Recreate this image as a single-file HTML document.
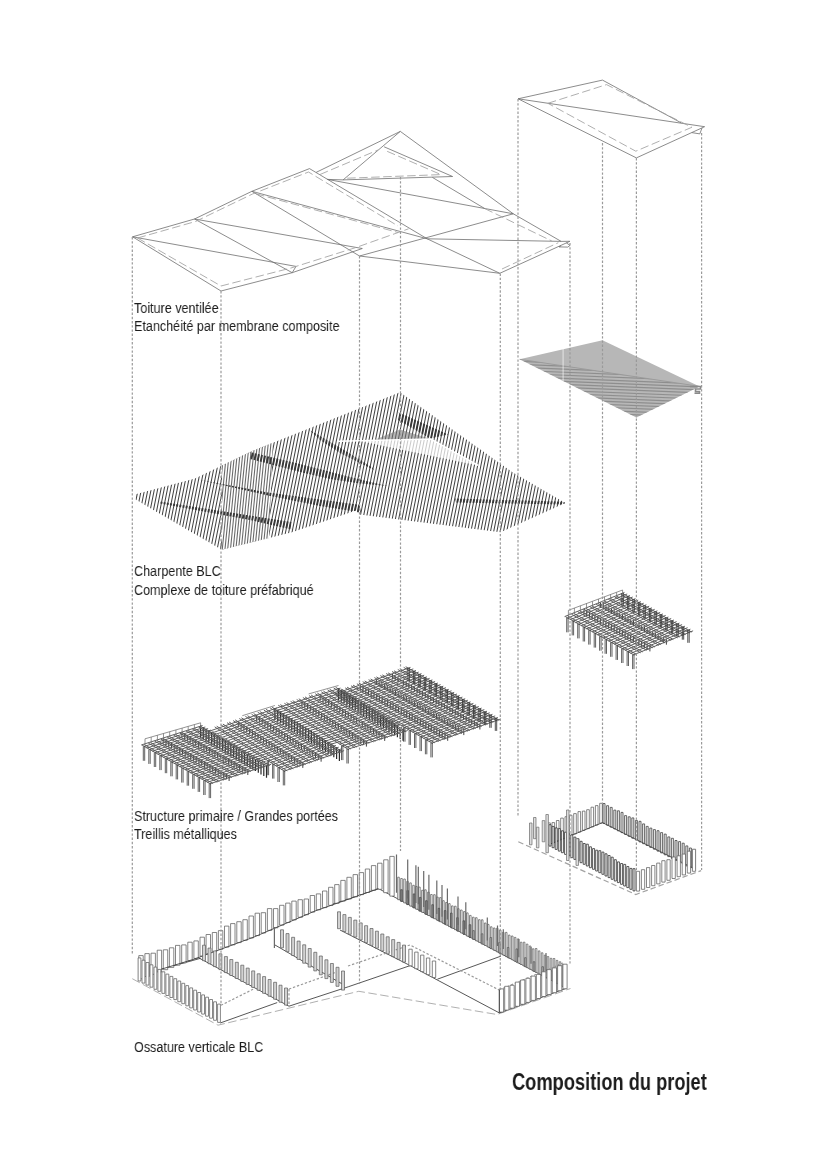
<!DOCTYPE html>
<html lang="fr"><head><meta charset="utf-8"><title>Composition du projet</title>
<style>
html,body{margin:0;padding:0;background:#fff;}
body{width:826px;height:1169px;position:relative;overflow:hidden;font-family:"Liberation Sans",sans-serif;}
svg{position:absolute;left:0;top:0;}
.l{stroke:#6e6e6e;stroke-width:.8;fill:none;}
.ld{stroke:#a0a0a0;stroke-width:.85;fill:none;stroke-dasharray:8.5 3.5;}
.dt{stroke:#9a9a9a;stroke-width:1.2;fill:none;stroke-dasharray:2.4 1.8;}
.h{stroke:#454545;stroke-width:1.05;fill:none;}
.h2{stroke:#383838;stroke-width:1.9;fill:none;}
.g{stroke:#585858;stroke-width:.95;fill:none;}
.pm{stroke:#444;stroke-width:1;fill:none;}
.pb{stroke:#3c3c3c;stroke-width:.9;fill:none;}
.p{stroke:#3a3a3a;stroke-width:.8;fill:none;}
.pd{stroke:#2a2a2a;stroke-width:1.2;fill:none;}
.r{stroke:#707070;stroke-width:.75;fill:none;}
.fl{stroke:#444;stroke-width:.9;fill:none;}
.pw{stroke:#5e5e5e;stroke-width:.75;fill:#fff;}
.ps{stroke:#6a6a6a;stroke-width:.7;fill:#dedede;}
.pw3{stroke:#555;stroke-width:.7;fill:#fff;}
.pk3{stroke:#555;stroke-width:.7;fill:#b5b5b5;}
.pw2{stroke:#2e2e2e;stroke-width:.8;fill:#fff;}
.ld2{stroke:#a2a2a2;stroke-width:1.2;fill:none;stroke-dasharray:5.5 3;}
.pg{stroke:#5a5a5a;stroke-width:.7;fill:#d2d2d2;}
.pk{stroke:#444;stroke-width:.7;fill:#8c8c8c;}
.pk2{stroke:#3a3a3a;stroke-width:.75;fill:#f0f0f0;}
.pl{stroke:#6a6a6a;stroke-width:1.2;fill:none;}
.h3{stroke:#6a6a6a;stroke-width:1.1;fill:none;}
.th{stroke:#8e8e8e;stroke-width:1.2;fill:none;}
.th2{stroke:#999;stroke-width:.9;fill:none;}
.t{position:absolute;will-change:transform;white-space:nowrap;color:#1c1c1c;font-size:15.3px;line-height:21px;transform-origin:0 0;transform:scaleX(.822);letter-spacing:0;}
.ttl{position:absolute;will-change:transform;white-space:nowrap;color:#1c1c1c;font-weight:bold;font-size:23px;line-height:30px;transform-origin:0 0;transform:scaleX(.794);}
</style></head><body>
<svg width="826" height="1169" viewBox="0 0 826 1169">
<path class="l" d="M132.6 236.8 L194.5 219 L251.9 191.3 L309.5 168.6"/>
<path class="l" d="M316.1 172.4 L400.3 131.4 L513.3 213.8 L561.2 241.4 L569.9 241.3 L499.8 273.3 L359.5 256"/>
<path class="l" d="M132.6 236.8 L221 291 L292.2 272.7 L362.3 248.5"/>
<line class="l" x1="132.6" y1="236.8" x2="296" y2="266.4"/>
<line class="l" x1="194.5" y1="219" x2="292.2" y2="272.7"/>
<line class="l" x1="296" y1="266.4" x2="292.2" y2="272.7"/>
<line class="l" x1="194.5" y1="219" x2="362.3" y2="248.5"/>
<line class="l" x1="251.9" y1="191.3" x2="359.5" y2="256"/>
<line class="l" x1="251.9" y1="191.3" x2="427.2" y2="238.8"/>
<line class="ld" x1="256" y1="193.8" x2="398" y2="232.5"/>
<line class="l" x1="309.5" y1="168.6" x2="427.2" y2="238.8"/>
<line class="l" x1="427.2" y1="238.8" x2="499.8" y2="273.3"/>
<line class="l" x1="359.5" y1="256" x2="513.3" y2="213.8"/>
<line class="l" x1="427.2" y1="238.8" x2="561.2" y2="241.4"/>
<line class="l" x1="327.4" y1="179.4" x2="513.3" y2="213.8"/>
<line class="l" x1="327.4" y1="179.4" x2="343.1" y2="179.9"/>
<path class="l" d="M400.3 131.4 L343.1 179.9 L452.6 176.5 L384.1 146.8"/>
<line class="l" x1="432.4" y1="177.4" x2="484.8" y2="208.6"/>
<line class="ld" x1="484.8" y1="208.6" x2="551.8" y2="241"/>
<path class="l" d="M566.3 242.8 L570 245.4 L567.8 247.1 L559 246.9 L561 245.8"/>
<path class="ld" d="M137.5 238 L195.5 221.5 L252.5 194 L308.5 172 L398 226"/>
<path class="ld" d="M137.5 238 L221 286 L291 268 L356 247.5 L408.6 228.8"/>
<path class="ld" d="M320 174.5 L378 150"/>
<path class="ld" d="M347.2 178.2 L441 174.6 L385.5 150.6"/>
<path class="ld" d="M502 269 L558.3 242.7"/>
<path class="l" d="M518.1 98.8 L602.5 80.1 L681.1 122.8"/>
<path class="l" d="M518.1 98.8 L704.6 126.7 L636.4 157.9 L518.1 98.8"/>
<path class="ld" d="M547.9 103.3 L606.5 84.6 L691.8 127.3 L635.8 151.2 L547.9 103.3"/>
<path class="l" d="M691.8 132.6 L699.8 133.9 L702 128"/>
<defs><clipPath id="ch"><path d="M135.6 499.6 L135.6 494.2 L195 478.6 L252 451 L309.5 428.2 L400 392.2 L513 472.6 L565.3 503 L500.6 532.2 L359.5 514.6 L356 510.5 L292 532.2 L221.8 549.8 Z"/></clipPath></defs>
<g clip-path="url(#ch)">
<path class="h" d="M132.4 388L99 555M135.7 388L102.2 555M138.9 388L105.5 555M142.2 388L108.8 555M145.4 388L112 555M148.7 388L115.2 555M151.9 388L118.5 555M155.2 388L121.8 555M158.4 388L125 555M161.7 388L128.2 555M164.9 388L131.5 555M168.2 388L134.8 555M171.4 388L138 555M174.7 388L141.2 555M177.9 388L144.5 555M181.2 388L147.8 555M184.4 388L151 555M187.7 388L154.2 555M190.9 388L157.5 555M194.2 388L160.8 555M197.4 388L164 555M200.7 388L167.2 555M203.9 388L170.5 555M207.2 388L173.8 555M210.4 388L177 555M213.7 388L180.2 555M216.9 388L183.5 555M220.2 388L186.8 555M223.4 388L190 555M226.7 388L193.2 555M229.9 388L196.5 555M233.2 388L199.8 555M236.4 388L203 555M239.7 388L206.2 555M242.9 388L209.5 555M246.2 388L212.8 555M249.4 388L216 555M252.7 388L219.2 555M255.9 388L222.5 555M259.1 388L225.8 555M262.4 388L229 555M265.6 388L232.2 555M268.9 388L235.5 555M272.1 388L238.8 555M275.4 388L242 555M278.6 388L245.2 555M281.9 388L248.5 555M285.1 388L251.8 555M288.4 388L255 555M291.6 388L258.2 555M294.9 388L261.5 555M298.1 388L264.8 555M301.4 388L268 555M304.6 388L271.2 555M307.9 388L274.5 555M311.1 388L277.8 555M314.4 388L281 555M317.6 388L284.2 555M320.9 388L287.5 555M324.1 388L290.8 555M327.4 388L294 555M330.6 388L297.2 555M333.9 388L300.5 555M337.1 388L303.8 555M340.4 388L307 555M343.6 388L310.2 555M346.9 388L313.5 555M350.1 388L316.8 555M353.4 388L320 555M356.6 388L323.2 555M359.9 388L326.5 555M363.1 388L329.8 555M366.4 388L333 555M369.6 388L336.2 555M372.9 388L339.5 555M376.1 388L342.8 555M379.4 388L346 555M382.6 388L349.2 555M385.9 388L352.5 555M389.1 388L355.8 555M392.4 388L359 555M395.6 388L362.2 555M398.9 388L365.5 555M402.1 388L368.8 555M405.4 388L372 555M408.6 388L375.2 555M411.9 388L378.5 555M415.1 388L381.8 555M418.4 388L385 555M421.6 388L388.2 555M424.9 388L391.5 555M428.1 388L394.8 555M431.4 388L398 555M434.6 388L401.2 555M437.9 388L404.5 555M441.1 388L407.8 555M444.4 388L411 555M447.6 388L414.2 555M450.9 388L417.5 555M454.1 388L420.8 555M457.4 388L424 555M460.6 388L427.2 555M463.9 388L430.5 555M467.1 388L433.8 555M470.4 388L437 555M473.6 388L440.2 555M476.9 388L443.5 555M480.1 388L446.8 555M483.4 388L450 555M486.6 388L453.2 555M489.9 388L456.5 555M493.1 388L459.8 555M496.4 388L463 555M499.6 388L466.2 555M502.9 388L469.5 555M506.1 388L472.8 555M509.4 388L476 555M512.6 388L479.2 555M515.9 388L482.5 555M519.1 388L485.8 555M522.4 388L489 555M525.6 388L492.2 555M528.9 388L495.5 555M532.1 388L498.8 555M535.4 388L502 555M538.6 388L505.2 555M541.9 388L508.5 555M545.1 388L511.8 555M548.4 388L515 555M551.6 388L518.2 555M554.9 388L521.5 555M558.1 388L524.8 555M561.4 388L528 555M564.6 388L531.2 555M567.9 388L534.5 555M571.1 388L537.8 555M574.4 388L541 555M577.6 388L544.2 555M580.9 388L547.5 555M584.1 388L550.8 555M587.4 388L554 555M590.6 388L557.2 555M593.9 388L560.5 555M597.1 388L563.8 555M600.4 388L567 555M603.6 388L570.2 555M606.9 388L573.5 555M610.1 388L576.8 555M613.4 388L580 555M616.6 388L583.2 555M619.9 388L586.5 555"/>
<clipPath id="ca"><path d="M222 440 L273 440 L268 560 L222 560 Z"/></clipPath>
<path d="M222 440 L273 440 L268 560 L222 560 Z" fill="#fff"/>
<path class="h3" clip-path="url(#ca)" d="M206 440L194 560M208.7 440L196.7 560M211.4 440L199.4 560M214.2 440L202.2 560M216.9 440L204.9 560M219.6 440L207.6 560M222.3 440L210.3 560M225 440L213 560M227.8 440L215.8 560M230.5 440L218.5 560M233.2 440L221.2 560M235.9 440L223.9 560M238.6 440L226.6 560M241.4 440L229.4 560M244.1 440L232.1 560M246.8 440L234.8 560M249.5 440L237.5 560M252.2 440L240.2 560M255 440L243 560M257.7 440L245.7 560M260.4 440L248.4 560M263.1 440L251.1 560M265.8 440L253.8 560M268.6 440L256.6 560M271.3 440L259.3 560M274 440L262 560M276.7 440L264.7 560M279.4 440L267.4 560M282.2 440L270.2 560M284.9 440L272.9 560M287.6 440L275.6 560M290.3 440L278.3 560M293 440L281 560M295.8 440L283.8 560"/>
<clipPath id="cb0"><path d="M250.3 452 L300 464 L360 479.5 L388 486 L360 483.5 L330 479 L300 472 L250.3 459 Z"/></clipPath>
<path class="h2" clip-path="url(#cb0)" d="M132.4 388L99 555M135.7 388L102.2 555M138.9 388L105.5 555M142.2 388L108.8 555M145.4 388L112 555M148.7 388L115.2 555M151.9 388L118.5 555M155.2 388L121.8 555M158.4 388L125 555M161.7 388L128.2 555M164.9 388L131.5 555M168.2 388L134.8 555M171.4 388L138 555M174.7 388L141.2 555M177.9 388L144.5 555M181.2 388L147.8 555M184.4 388L151 555M187.7 388L154.2 555M190.9 388L157.5 555M194.2 388L160.8 555M197.4 388L164 555M200.7 388L167.2 555M203.9 388L170.5 555M207.2 388L173.8 555M210.4 388L177 555M213.7 388L180.2 555M216.9 388L183.5 555M220.2 388L186.8 555M223.4 388L190 555M226.7 388L193.2 555M229.9 388L196.5 555M233.2 388L199.8 555M236.4 388L203 555M239.7 388L206.2 555M242.9 388L209.5 555M246.2 388L212.8 555M249.4 388L216 555M252.7 388L219.2 555M255.9 388L222.5 555M259.1 388L225.8 555M262.4 388L229 555M265.6 388L232.2 555M268.9 388L235.5 555M272.1 388L238.8 555M275.4 388L242 555M278.6 388L245.2 555M281.9 388L248.5 555M285.1 388L251.8 555M288.4 388L255 555M291.6 388L258.2 555M294.9 388L261.5 555M298.1 388L264.8 555M301.4 388L268 555M304.6 388L271.2 555M307.9 388L274.5 555M311.1 388L277.8 555M314.4 388L281 555M317.6 388L284.2 555M320.9 388L287.5 555M324.1 388L290.8 555M327.4 388L294 555M330.6 388L297.2 555M333.9 388L300.5 555M337.1 388L303.8 555M340.4 388L307 555M343.6 388L310.2 555M346.9 388L313.5 555M350.1 388L316.8 555M353.4 388L320 555M356.6 388L323.2 555M359.9 388L326.5 555M363.1 388L329.8 555M366.4 388L333 555M369.6 388L336.2 555M372.9 388L339.5 555M376.1 388L342.8 555M379.4 388L346 555M382.6 388L349.2 555M385.9 388L352.5 555M389.1 388L355.8 555M392.4 388L359 555M395.6 388L362.2 555M398.9 388L365.5 555M402.1 388L368.8 555M405.4 388L372 555M408.6 388L375.2 555M411.9 388L378.5 555M415.1 388L381.8 555M418.4 388L385 555M421.6 388L388.2 555M424.9 388L391.5 555M428.1 388L394.8 555M431.4 388L398 555M434.6 388L401.2 555M437.9 388L404.5 555M441.1 388L407.8 555M444.4 388L411 555M447.6 388L414.2 555M450.9 388L417.5 555M454.1 388L420.8 555M457.4 388L424 555M460.6 388L427.2 555M463.9 388L430.5 555M467.1 388L433.8 555M470.4 388L437 555M473.6 388L440.2 555M476.9 388L443.5 555M480.1 388L446.8 555M483.4 388L450 555M486.6 388L453.2 555M489.9 388L456.5 555M493.1 388L459.8 555M496.4 388L463 555M499.6 388L466.2 555M502.9 388L469.5 555M506.1 388L472.8 555M509.4 388L476 555M512.6 388L479.2 555M515.9 388L482.5 555M519.1 388L485.8 555M522.4 388L489 555M525.6 388L492.2 555M528.9 388L495.5 555M532.1 388L498.8 555M535.4 388L502 555M538.6 388L505.2 555M541.9 388L508.5 555M545.1 388L511.8 555M548.4 388L515 555M551.6 388L518.2 555M554.9 388L521.5 555M558.1 388L524.8 555M561.4 388L528 555M564.6 388L531.2 555M567.9 388L534.5 555M571.1 388L537.8 555M574.4 388L541 555M577.6 388L544.2 555M580.9 388L547.5 555M584.1 388L550.8 555M587.4 388L554 555M590.6 388L557.2 555M593.9 388L560.5 555M597.1 388L563.8 555M600.4 388L567 555M603.6 388L570.2 555M606.9 388L573.5 555M610.1 388L576.8 555M613.4 388L580 555M616.6 388L583.2 555M619.9 388L586.5 555"/>
<clipPath id="cb1"><path d="M308.8 429.5 L340 447.5 L372.4 467.5 L374 470 L340 453 L320 440 Z"/></clipPath>
<path class="h2" clip-path="url(#cb1)" d="M132.4 388L99 555M135.7 388L102.2 555M138.9 388L105.5 555M142.2 388L108.8 555M145.4 388L112 555M148.7 388L115.2 555M151.9 388L118.5 555M155.2 388L121.8 555M158.4 388L125 555M161.7 388L128.2 555M164.9 388L131.5 555M168.2 388L134.8 555M171.4 388L138 555M174.7 388L141.2 555M177.9 388L144.5 555M181.2 388L147.8 555M184.4 388L151 555M187.7 388L154.2 555M190.9 388L157.5 555M194.2 388L160.8 555M197.4 388L164 555M200.7 388L167.2 555M203.9 388L170.5 555M207.2 388L173.8 555M210.4 388L177 555M213.7 388L180.2 555M216.9 388L183.5 555M220.2 388L186.8 555M223.4 388L190 555M226.7 388L193.2 555M229.9 388L196.5 555M233.2 388L199.8 555M236.4 388L203 555M239.7 388L206.2 555M242.9 388L209.5 555M246.2 388L212.8 555M249.4 388L216 555M252.7 388L219.2 555M255.9 388L222.5 555M259.1 388L225.8 555M262.4 388L229 555M265.6 388L232.2 555M268.9 388L235.5 555M272.1 388L238.8 555M275.4 388L242 555M278.6 388L245.2 555M281.9 388L248.5 555M285.1 388L251.8 555M288.4 388L255 555M291.6 388L258.2 555M294.9 388L261.5 555M298.1 388L264.8 555M301.4 388L268 555M304.6 388L271.2 555M307.9 388L274.5 555M311.1 388L277.8 555M314.4 388L281 555M317.6 388L284.2 555M320.9 388L287.5 555M324.1 388L290.8 555M327.4 388L294 555M330.6 388L297.2 555M333.9 388L300.5 555M337.1 388L303.8 555M340.4 388L307 555M343.6 388L310.2 555M346.9 388L313.5 555M350.1 388L316.8 555M353.4 388L320 555M356.6 388L323.2 555M359.9 388L326.5 555M363.1 388L329.8 555M366.4 388L333 555M369.6 388L336.2 555M372.9 388L339.5 555M376.1 388L342.8 555M379.4 388L346 555M382.6 388L349.2 555M385.9 388L352.5 555M389.1 388L355.8 555M392.4 388L359 555M395.6 388L362.2 555M398.9 388L365.5 555M402.1 388L368.8 555M405.4 388L372 555M408.6 388L375.2 555M411.9 388L378.5 555M415.1 388L381.8 555M418.4 388L385 555M421.6 388L388.2 555M424.9 388L391.5 555M428.1 388L394.8 555M431.4 388L398 555M434.6 388L401.2 555M437.9 388L404.5 555M441.1 388L407.8 555M444.4 388L411 555M447.6 388L414.2 555M450.9 388L417.5 555M454.1 388L420.8 555M457.4 388L424 555M460.6 388L427.2 555M463.9 388L430.5 555M467.1 388L433.8 555M470.4 388L437 555M473.6 388L440.2 555M476.9 388L443.5 555M480.1 388L446.8 555M483.4 388L450 555M486.6 388L453.2 555M489.9 388L456.5 555M493.1 388L459.8 555M496.4 388L463 555M499.6 388L466.2 555M502.9 388L469.5 555M506.1 388L472.8 555M509.4 388L476 555M512.6 388L479.2 555M515.9 388L482.5 555M519.1 388L485.8 555M522.4 388L489 555M525.6 388L492.2 555M528.9 388L495.5 555M532.1 388L498.8 555M535.4 388L502 555M538.6 388L505.2 555M541.9 388L508.5 555M545.1 388L511.8 555M548.4 388L515 555M551.6 388L518.2 555M554.9 388L521.5 555M558.1 388L524.8 555M561.4 388L528 555M564.6 388L531.2 555M567.9 388L534.5 555M571.1 388L537.8 555M574.4 388L541 555M577.6 388L544.2 555M580.9 388L547.5 555M584.1 388L550.8 555M587.4 388L554 555M590.6 388L557.2 555M593.9 388L560.5 555M597.1 388L563.8 555M600.4 388L567 555M603.6 388L570.2 555M606.9 388L573.5 555M610.1 388L576.8 555M613.4 388L580 555M616.6 388L583.2 555M619.9 388L586.5 555"/>
<clipPath id="cb2"><path d="M198 479.5 L268 492.5 L361 505 L361 512.5 L320 506 L268 495.5 Z"/></clipPath>
<path class="h2" clip-path="url(#cb2)" d="M132.4 388L99 555M135.7 388L102.2 555M138.9 388L105.5 555M142.2 388L108.8 555M145.4 388L112 555M148.7 388L115.2 555M151.9 388L118.5 555M155.2 388L121.8 555M158.4 388L125 555M161.7 388L128.2 555M164.9 388L131.5 555M168.2 388L134.8 555M171.4 388L138 555M174.7 388L141.2 555M177.9 388L144.5 555M181.2 388L147.8 555M184.4 388L151 555M187.7 388L154.2 555M190.9 388L157.5 555M194.2 388L160.8 555M197.4 388L164 555M200.7 388L167.2 555M203.9 388L170.5 555M207.2 388L173.8 555M210.4 388L177 555M213.7 388L180.2 555M216.9 388L183.5 555M220.2 388L186.8 555M223.4 388L190 555M226.7 388L193.2 555M229.9 388L196.5 555M233.2 388L199.8 555M236.4 388L203 555M239.7 388L206.2 555M242.9 388L209.5 555M246.2 388L212.8 555M249.4 388L216 555M252.7 388L219.2 555M255.9 388L222.5 555M259.1 388L225.8 555M262.4 388L229 555M265.6 388L232.2 555M268.9 388L235.5 555M272.1 388L238.8 555M275.4 388L242 555M278.6 388L245.2 555M281.9 388L248.5 555M285.1 388L251.8 555M288.4 388L255 555M291.6 388L258.2 555M294.9 388L261.5 555M298.1 388L264.8 555M301.4 388L268 555M304.6 388L271.2 555M307.9 388L274.5 555M311.1 388L277.8 555M314.4 388L281 555M317.6 388L284.2 555M320.9 388L287.5 555M324.1 388L290.8 555M327.4 388L294 555M330.6 388L297.2 555M333.9 388L300.5 555M337.1 388L303.8 555M340.4 388L307 555M343.6 388L310.2 555M346.9 388L313.5 555M350.1 388L316.8 555M353.4 388L320 555M356.6 388L323.2 555M359.9 388L326.5 555M363.1 388L329.8 555M366.4 388L333 555M369.6 388L336.2 555M372.9 388L339.5 555M376.1 388L342.8 555M379.4 388L346 555M382.6 388L349.2 555M385.9 388L352.5 555M389.1 388L355.8 555M392.4 388L359 555M395.6 388L362.2 555M398.9 388L365.5 555M402.1 388L368.8 555M405.4 388L372 555M408.6 388L375.2 555M411.9 388L378.5 555M415.1 388L381.8 555M418.4 388L385 555M421.6 388L388.2 555M424.9 388L391.5 555M428.1 388L394.8 555M431.4 388L398 555M434.6 388L401.2 555M437.9 388L404.5 555M441.1 388L407.8 555M444.4 388L411 555M447.6 388L414.2 555M450.9 388L417.5 555M454.1 388L420.8 555M457.4 388L424 555M460.6 388L427.2 555M463.9 388L430.5 555M467.1 388L433.8 555M470.4 388L437 555M473.6 388L440.2 555M476.9 388L443.5 555M480.1 388L446.8 555M483.4 388L450 555M486.6 388L453.2 555M489.9 388L456.5 555M493.1 388L459.8 555M496.4 388L463 555M499.6 388L466.2 555M502.9 388L469.5 555M506.1 388L472.8 555M509.4 388L476 555M512.6 388L479.2 555M515.9 388L482.5 555M519.1 388L485.8 555M522.4 388L489 555M525.6 388L492.2 555M528.9 388L495.5 555M532.1 388L498.8 555M535.4 388L502 555M538.6 388L505.2 555M541.9 388L508.5 555M545.1 388L511.8 555M548.4 388L515 555M551.6 388L518.2 555M554.9 388L521.5 555M558.1 388L524.8 555M561.4 388L528 555M564.6 388L531.2 555M567.9 388L534.5 555M571.1 388L537.8 555M574.4 388L541 555M577.6 388L544.2 555M580.9 388L547.5 555M584.1 388L550.8 555M587.4 388L554 555M590.6 388L557.2 555M593.9 388L560.5 555M597.1 388L563.8 555M600.4 388L567 555M603.6 388L570.2 555M606.9 388L573.5 555M610.1 388L576.8 555M613.4 388L580 555M616.6 388L583.2 555M619.9 388L586.5 555"/>
<clipPath id="cb3"><path d="M160 501.5 L291.5 522 L291.5 529.5 L250 520 L160 503.5 Z"/></clipPath>
<path class="h2" clip-path="url(#cb3)" d="M132.4 388L99 555M135.7 388L102.2 555M138.9 388L105.5 555M142.2 388L108.8 555M145.4 388L112 555M148.7 388L115.2 555M151.9 388L118.5 555M155.2 388L121.8 555M158.4 388L125 555M161.7 388L128.2 555M164.9 388L131.5 555M168.2 388L134.8 555M171.4 388L138 555M174.7 388L141.2 555M177.9 388L144.5 555M181.2 388L147.8 555M184.4 388L151 555M187.7 388L154.2 555M190.9 388L157.5 555M194.2 388L160.8 555M197.4 388L164 555M200.7 388L167.2 555M203.9 388L170.5 555M207.2 388L173.8 555M210.4 388L177 555M213.7 388L180.2 555M216.9 388L183.5 555M220.2 388L186.8 555M223.4 388L190 555M226.7 388L193.2 555M229.9 388L196.5 555M233.2 388L199.8 555M236.4 388L203 555M239.7 388L206.2 555M242.9 388L209.5 555M246.2 388L212.8 555M249.4 388L216 555M252.7 388L219.2 555M255.9 388L222.5 555M259.1 388L225.8 555M262.4 388L229 555M265.6 388L232.2 555M268.9 388L235.5 555M272.1 388L238.8 555M275.4 388L242 555M278.6 388L245.2 555M281.9 388L248.5 555M285.1 388L251.8 555M288.4 388L255 555M291.6 388L258.2 555M294.9 388L261.5 555M298.1 388L264.8 555M301.4 388L268 555M304.6 388L271.2 555M307.9 388L274.5 555M311.1 388L277.8 555M314.4 388L281 555M317.6 388L284.2 555M320.9 388L287.5 555M324.1 388L290.8 555M327.4 388L294 555M330.6 388L297.2 555M333.9 388L300.5 555M337.1 388L303.8 555M340.4 388L307 555M343.6 388L310.2 555M346.9 388L313.5 555M350.1 388L316.8 555M353.4 388L320 555M356.6 388L323.2 555M359.9 388L326.5 555M363.1 388L329.8 555M366.4 388L333 555M369.6 388L336.2 555M372.9 388L339.5 555M376.1 388L342.8 555M379.4 388L346 555M382.6 388L349.2 555M385.9 388L352.5 555M389.1 388L355.8 555M392.4 388L359 555M395.6 388L362.2 555M398.9 388L365.5 555M402.1 388L368.8 555M405.4 388L372 555M408.6 388L375.2 555M411.9 388L378.5 555M415.1 388L381.8 555M418.4 388L385 555M421.6 388L388.2 555M424.9 388L391.5 555M428.1 388L394.8 555M431.4 388L398 555M434.6 388L401.2 555M437.9 388L404.5 555M441.1 388L407.8 555M444.4 388L411 555M447.6 388L414.2 555M450.9 388L417.5 555M454.1 388L420.8 555M457.4 388L424 555M460.6 388L427.2 555M463.9 388L430.5 555M467.1 388L433.8 555M470.4 388L437 555M473.6 388L440.2 555M476.9 388L443.5 555M480.1 388L446.8 555M483.4 388L450 555M486.6 388L453.2 555M489.9 388L456.5 555M493.1 388L459.8 555M496.4 388L463 555M499.6 388L466.2 555M502.9 388L469.5 555M506.1 388L472.8 555M509.4 388L476 555M512.6 388L479.2 555M515.9 388L482.5 555M519.1 388L485.8 555M522.4 388L489 555M525.6 388L492.2 555M528.9 388L495.5 555M532.1 388L498.8 555M535.4 388L502 555M538.6 388L505.2 555M541.9 388L508.5 555M545.1 388L511.8 555M548.4 388L515 555M551.6 388L518.2 555M554.9 388L521.5 555M558.1 388L524.8 555M561.4 388L528 555M564.6 388L531.2 555M567.9 388L534.5 555M571.1 388L537.8 555M574.4 388L541 555M577.6 388L544.2 555M580.9 388L547.5 555M584.1 388L550.8 555M587.4 388L554 555M590.6 388L557.2 555M593.9 388L560.5 555M597.1 388L563.8 555M600.4 388L567 555M603.6 388L570.2 555M606.9 388L573.5 555M610.1 388L576.8 555M613.4 388L580 555M616.6 388L583.2 555M619.9 388L586.5 555"/>
<clipPath id="cb4"><path d="M397.9 412 L448.3 434.4 L430 438.5 L398 420 Z"/></clipPath>
<path class="h2" clip-path="url(#cb4)" d="M132.4 388L99 555M135.7 388L102.2 555M138.9 388L105.5 555M142.2 388L108.8 555M145.4 388L112 555M148.7 388L115.2 555M151.9 388L118.5 555M155.2 388L121.8 555M158.4 388L125 555M161.7 388L128.2 555M164.9 388L131.5 555M168.2 388L134.8 555M171.4 388L138 555M174.7 388L141.2 555M177.9 388L144.5 555M181.2 388L147.8 555M184.4 388L151 555M187.7 388L154.2 555M190.9 388L157.5 555M194.2 388L160.8 555M197.4 388L164 555M200.7 388L167.2 555M203.9 388L170.5 555M207.2 388L173.8 555M210.4 388L177 555M213.7 388L180.2 555M216.9 388L183.5 555M220.2 388L186.8 555M223.4 388L190 555M226.7 388L193.2 555M229.9 388L196.5 555M233.2 388L199.8 555M236.4 388L203 555M239.7 388L206.2 555M242.9 388L209.5 555M246.2 388L212.8 555M249.4 388L216 555M252.7 388L219.2 555M255.9 388L222.5 555M259.1 388L225.8 555M262.4 388L229 555M265.6 388L232.2 555M268.9 388L235.5 555M272.1 388L238.8 555M275.4 388L242 555M278.6 388L245.2 555M281.9 388L248.5 555M285.1 388L251.8 555M288.4 388L255 555M291.6 388L258.2 555M294.9 388L261.5 555M298.1 388L264.8 555M301.4 388L268 555M304.6 388L271.2 555M307.9 388L274.5 555M311.1 388L277.8 555M314.4 388L281 555M317.6 388L284.2 555M320.9 388L287.5 555M324.1 388L290.8 555M327.4 388L294 555M330.6 388L297.2 555M333.9 388L300.5 555M337.1 388L303.8 555M340.4 388L307 555M343.6 388L310.2 555M346.9 388L313.5 555M350.1 388L316.8 555M353.4 388L320 555M356.6 388L323.2 555M359.9 388L326.5 555M363.1 388L329.8 555M366.4 388L333 555M369.6 388L336.2 555M372.9 388L339.5 555M376.1 388L342.8 555M379.4 388L346 555M382.6 388L349.2 555M385.9 388L352.5 555M389.1 388L355.8 555M392.4 388L359 555M395.6 388L362.2 555M398.9 388L365.5 555M402.1 388L368.8 555M405.4 388L372 555M408.6 388L375.2 555M411.9 388L378.5 555M415.1 388L381.8 555M418.4 388L385 555M421.6 388L388.2 555M424.9 388L391.5 555M428.1 388L394.8 555M431.4 388L398 555M434.6 388L401.2 555M437.9 388L404.5 555M441.1 388L407.8 555M444.4 388L411 555M447.6 388L414.2 555M450.9 388L417.5 555M454.1 388L420.8 555M457.4 388L424 555M460.6 388L427.2 555M463.9 388L430.5 555M467.1 388L433.8 555M470.4 388L437 555M473.6 388L440.2 555M476.9 388L443.5 555M480.1 388L446.8 555M483.4 388L450 555M486.6 388L453.2 555M489.9 388L456.5 555M493.1 388L459.8 555M496.4 388L463 555M499.6 388L466.2 555M502.9 388L469.5 555M506.1 388L472.8 555M509.4 388L476 555M512.6 388L479.2 555M515.9 388L482.5 555M519.1 388L485.8 555M522.4 388L489 555M525.6 388L492.2 555M528.9 388L495.5 555M532.1 388L498.8 555M535.4 388L502 555M538.6 388L505.2 555M541.9 388L508.5 555M545.1 388L511.8 555M548.4 388L515 555M551.6 388L518.2 555M554.9 388L521.5 555M558.1 388L524.8 555M561.4 388L528 555M564.6 388L531.2 555M567.9 388L534.5 555M571.1 388L537.8 555M574.4 388L541 555M577.6 388L544.2 555M580.9 388L547.5 555M584.1 388L550.8 555M587.4 388L554 555M590.6 388L557.2 555M593.9 388L560.5 555M597.1 388L563.8 555M600.4 388L567 555M603.6 388L570.2 555M606.9 388L573.5 555M610.1 388L576.8 555M613.4 388L580 555M616.6 388L583.2 555M619.9 388L586.5 555"/>
<clipPath id="cb5"><path d="M455 498.5 L565 501.8 L565 504.5 L455 502.5 Z"/></clipPath>
<path class="h2" clip-path="url(#cb5)" d="M132.4 388L99 555M135.7 388L102.2 555M138.9 388L105.5 555M142.2 388L108.8 555M145.4 388L112 555M148.7 388L115.2 555M151.9 388L118.5 555M155.2 388L121.8 555M158.4 388L125 555M161.7 388L128.2 555M164.9 388L131.5 555M168.2 388L134.8 555M171.4 388L138 555M174.7 388L141.2 555M177.9 388L144.5 555M181.2 388L147.8 555M184.4 388L151 555M187.7 388L154.2 555M190.9 388L157.5 555M194.2 388L160.8 555M197.4 388L164 555M200.7 388L167.2 555M203.9 388L170.5 555M207.2 388L173.8 555M210.4 388L177 555M213.7 388L180.2 555M216.9 388L183.5 555M220.2 388L186.8 555M223.4 388L190 555M226.7 388L193.2 555M229.9 388L196.5 555M233.2 388L199.8 555M236.4 388L203 555M239.7 388L206.2 555M242.9 388L209.5 555M246.2 388L212.8 555M249.4 388L216 555M252.7 388L219.2 555M255.9 388L222.5 555M259.1 388L225.8 555M262.4 388L229 555M265.6 388L232.2 555M268.9 388L235.5 555M272.1 388L238.8 555M275.4 388L242 555M278.6 388L245.2 555M281.9 388L248.5 555M285.1 388L251.8 555M288.4 388L255 555M291.6 388L258.2 555M294.9 388L261.5 555M298.1 388L264.8 555M301.4 388L268 555M304.6 388L271.2 555M307.9 388L274.5 555M311.1 388L277.8 555M314.4 388L281 555M317.6 388L284.2 555M320.9 388L287.5 555M324.1 388L290.8 555M327.4 388L294 555M330.6 388L297.2 555M333.9 388L300.5 555M337.1 388L303.8 555M340.4 388L307 555M343.6 388L310.2 555M346.9 388L313.5 555M350.1 388L316.8 555M353.4 388L320 555M356.6 388L323.2 555M359.9 388L326.5 555M363.1 388L329.8 555M366.4 388L333 555M369.6 388L336.2 555M372.9 388L339.5 555M376.1 388L342.8 555M379.4 388L346 555M382.6 388L349.2 555M385.9 388L352.5 555M389.1 388L355.8 555M392.4 388L359 555M395.6 388L362.2 555M398.9 388L365.5 555M402.1 388L368.8 555M405.4 388L372 555M408.6 388L375.2 555M411.9 388L378.5 555M415.1 388L381.8 555M418.4 388L385 555M421.6 388L388.2 555M424.9 388L391.5 555M428.1 388L394.8 555M431.4 388L398 555M434.6 388L401.2 555M437.9 388L404.5 555M441.1 388L407.8 555M444.4 388L411 555M447.6 388L414.2 555M450.9 388L417.5 555M454.1 388L420.8 555M457.4 388L424 555M460.6 388L427.2 555M463.9 388L430.5 555M467.1 388L433.8 555M470.4 388L437 555M473.6 388L440.2 555M476.9 388L443.5 555M480.1 388L446.8 555M483.4 388L450 555M486.6 388L453.2 555M489.9 388L456.5 555M493.1 388L459.8 555M496.4 388L463 555M499.6 388L466.2 555M502.9 388L469.5 555M506.1 388L472.8 555M509.4 388L476 555M512.6 388L479.2 555M515.9 388L482.5 555M519.1 388L485.8 555M522.4 388L489 555M525.6 388L492.2 555M528.9 388L495.5 555M532.1 388L498.8 555M535.4 388L502 555M538.6 388L505.2 555M541.9 388L508.5 555M545.1 388L511.8 555M548.4 388L515 555M551.6 388L518.2 555M554.9 388L521.5 555M558.1 388L524.8 555M561.4 388L528 555M564.6 388L531.2 555M567.9 388L534.5 555M571.1 388L537.8 555M574.4 388L541 555M577.6 388L544.2 555M580.9 388L547.5 555M584.1 388L550.8 555M587.4 388L554 555M590.6 388L557.2 555M593.9 388L560.5 555M597.1 388L563.8 555M600.4 388L567 555M603.6 388L570.2 555M606.9 388L573.5 555M610.1 388L576.8 555M613.4 388L580 555M616.6 388L583.2 555M619.9 388L586.5 555"/>
<path d="M400 429.5 L374.2 440 L430.8 439 Z" fill="#7a7a7a" opacity=".55"/>
<path d="M360.9 441.3 L430.8 439.3 L478.2 465.6 Z" fill="#fff" opacity=".72"/>
<path d="M338.2 441.2 L430.8 439 L478.2 465.4" fill="none" stroke="#fff" stroke-width="1.6"/>
</g>
<path d="M519.6 359.3 L602.5 340.3 L699.6 386.4 L636.4 417.4 Z" fill="#b7b7b7"/>
<clipPath id="th"><path d="M519.6 359.3 L699.6 386.4 L636.4 417.4 Z"/></clipPath>
<path class="th" clip-path="url(#th)" d="M515 355L705 362.6M515 358.1L705 365.7M515 361.1L705 368.7M515 364.2L705 371.8M515 367.2L705 374.8M515 370.3L705 377.9M515 373.3L705 380.9M515 376.4L705 384M515 379.4L705 387M515 382.5L705 390.1M515 385.5L705 393.1M515 388.6L705 396.2M515 391.6L705 399.2M515 394.7L705 402.3M515 397.7L705 405.3M515 400.8L705 408.4M515 403.8L705 411.4M515 406.9L705 414.5M515 409.9L705 417.5M515 413L705 420.6M515 416L705 423.6M515 419.1L705 426.7M515 422.1L705 429.7M515 425.2L705 432.8M515 428.2L705 435.8"/>
<line class="th2" x1="519.6" y1="359.3" x2="699.6" y2="386.4"/>
<path d="M563.1 347V381" stroke="#fff" stroke-width=".8" opacity=".8"/>
<path d="M690 386.5H700.5V389H695.5V391.5H699.5V393.3H694.5" fill="none" stroke="#8a8a8a" stroke-width="1.6"/>
<path class="pm" d="M360.3 685.2L360.3 690.7M363 686.7L363 692.2M365.8 688.3L365.8 693.8M368.5 689.9L368.5 695.4M371.2 691.4L371.2 696.9M374 693L374 698.5M376.7 694.6L376.7 700.1M379.4 696.1L379.4 701.6M382.2 697.7L382.2 703.2M384.9 699.3L384.9 704.8M387.6 700.8L387.6 706.3M390.3 702.4L390.3 707.9M393.1 704L393.1 709.5M395.8 705.5L395.8 711M398.5 707.1L398.5 712.6M401.3 708.7L401.3 714.2M404 710.2L404 715.7M406.7 711.8L406.7 717.3M409.5 713.4L409.5 718.9M412.2 714.9L412.2 720.4M414.9 716.5L414.9 722M417.7 718.1L417.7 723.6M420.4 719.6L420.4 725.1M423.1 721.2L423.1 726.7M425.9 722.8L425.9 728.2M428.6 724.3L428.6 729.8M431.3 725.9L431.3 731.4M434 727.4L434 732.9M436.8 729L436.8 734.5M439.5 730.6L439.5 736.1M442.2 732.1L442.2 737.6M445 733.7L445 739.2M447.7 735.3L447.7 740.8"/>
<path class="pm" d="M376.4 679.5L376.4 685M379.1 681.1L379.1 686.6M381.9 682.7L381.9 688.2M384.6 684.2L384.6 689.7M387.3 685.8L387.3 691.3M390.1 687.4L390.1 692.9M392.8 688.9L392.8 694.4M395.5 690.5L395.5 696M398.2 692.1L398.2 697.6M401 693.6L401 699.1M403.7 695.2L403.7 700.7M406.4 696.8L406.4 702.3M409.2 698.3L409.2 703.8M411.9 699.9L411.9 705.4M414.6 701.5L414.6 707M417.4 703L417.4 708.5M420.1 704.6L420.1 710.1M422.8 706.2L422.8 711.7M425.6 707.7L425.6 713.2M428.3 709.3L428.3 714.8M431 710.9L431 716.4M433.8 712.4L433.8 717.9M436.5 714L436.5 719.5M439.2 715.6L439.2 721.1M441.9 717.1L441.9 722.6M444.7 718.7L444.7 724.2M447.4 720.3L447.4 725.8M450.1 721.8L450.1 727.3M452.9 723.4L452.9 728.9M455.6 725L455.6 730.5M458.3 726.5L458.3 732M461.1 728.1L461.1 733.6M463.8 729.6L463.8 735.1"/>
<path class="pm" d="M392.5 673.9L392.5 679.4M395.2 675.5L395.2 681M398 677.1L398 682.6M400.7 678.6L400.7 684.1M403.4 680.2L403.4 685.7M406.2 681.8L406.2 687.3M408.9 683.3L408.9 688.8M411.6 684.9L411.6 690.4M414.4 686.4L414.4 691.9M417.1 688L417.1 693.5M419.8 689.6L419.8 695.1M422.5 691.1L422.5 696.6M425.3 692.7L425.3 698.2M428 694.3L428 699.8M430.7 695.8L430.7 701.3M433.5 697.4L433.5 702.9M436.2 699L436.2 704.5M438.9 700.5L438.9 706M441.7 702.1L441.7 707.6M444.4 703.7L444.4 709.2M447.1 705.2L447.1 710.7M449.9 706.8L449.9 712.3M452.6 708.4L452.6 713.9M455.3 709.9L455.3 715.4M458.1 711.5L458.1 717M460.8 713.1L460.8 718.6M463.5 714.6L463.5 720.1M466.2 716.2L466.2 721.7M469 717.8L469 723.3M471.7 719.3L471.7 724.8M474.4 720.9L474.4 726.4M477.2 722.5L477.2 728M479.9 724L479.9 729.5"/>
<path class="g" d="M334.3 694L410.5 667.4M337.1 695.6L413.3 668.9M339.8 697.1L416 670.5M342.5 698.7L418.7 672.1M345.3 700.2L421.5 673.6M348 701.8L424.2 675.2M350.7 703.4L426.9 676.8M353.5 704.9L429.7 678.3M356.2 706.5L432.4 679.9M358.9 708.1L435.1 681.5M361.7 709.6L437.9 683M364.4 711.2L440.6 684.6M367.1 712.8L443.3 686.2M369.8 714.3L446 687.7M372.6 715.9L448.8 689.3M375.3 717.5L451.5 690.8M378 719L454.2 692.4M380.8 720.6L457 694M383.5 722.2L459.7 695.5M386.2 723.7L462.4 697.1M389 725.3L465.2 698.7M391.7 726.9L467.9 700.2M401.5 726L470.6 701.8M404.2 727.5L473.4 703.4M407 729.1L476.1 704.9M409.7 730.7L478.8 706.5M412.4 732.2L481.6 708.1M415.2 733.8L484.3 709.6M417.9 735.3L487 711.2M420.6 736.9L489.7 712.8M423.4 738.5L492.5 714.3M426.1 740L495.2 715.9M428.8 741.6L497.9 717.5M431.5 743.2L500.7 719M339.3 689.9L432.8 743.5M341.3 689.2L434.8 742.8M345.2 687.9L438.6 741.4M347.1 687.2L440.6 740.8M351 685.8L444.5 739.4M353 685.1L446.5 738.7M356.9 683.8L450.3 737.4M358.9 683.1L452.3 736.7M362.7 681.7L456.2 735.3M364.7 681L458.2 734.6M368.6 679.7L462 733.3M370.6 679L464 732.6M374.4 677.6L467.9 731.2M376.4 676.9L469.9 730.5M380.3 675.6L473.8 729.2M382.3 674.9L475.7 728.5M386.1 673.5L479.6 727.1M388.1 672.9L481.6 726.4M392 671.5L485.5 725.1M394 670.8L487.5 724.4M397.8 669.5L491.3 723M399.8 668.8L493.3 722.3M403.7 667.4L497.2 721M405.7 666.7L499.2 720.3"/>
<path class="p" d="M403.6 727.2L403.6 741.7M405 727.2L405 741.7M409.1 730.4L409.1 744.9M410.4 730.4L410.4 744.9M414.5 733.5L414.5 748M415.9 733.5L415.9 748M420 736.6L420 751.1M421.4 736.6L421.4 751.1M425.4 739.8L425.4 754.3M426.8 739.8L426.8 754.3M430.9 742.9L430.9 757.4M432.3 742.9L432.3 757.4"/>
<path class="pb" d="M407.9 667.8L407.9 680.8M409.3 667.8L409.3 680.8M413.4 670.9L413.4 683.9M414.8 670.9L414.8 683.9M418.8 674.1L418.8 687.1M420.2 674.1L420.2 687.1M424.3 677.2L424.3 690.2M425.7 677.2L425.7 690.2M429.8 680.3L429.8 693.3M431.2 680.3L431.2 693.3M435.2 683.5L435.2 696.5M436.6 683.5L436.6 696.5M440.7 686.6L440.7 699.6M442.1 686.6L442.1 699.6M446.1 689.7L446.1 702.7M447.5 689.7L447.5 702.7M451.6 692.8L451.6 705.8M453 692.8L453 705.8M457.1 696L457.1 709M458.5 696L458.5 709M462.5 699.1L462.5 712.1M463.9 699.1L463.9 712.1M468 702.2L468 715.2M469.4 702.2L469.4 715.2M473.5 705.4L473.5 718.4M474.9 705.4L474.9 718.4M478.9 708.5L478.9 721.5M480.3 708.5L480.3 721.5M484.4 711.6L484.4 724.6M485.8 711.6L485.8 724.6M489.8 714.8L489.8 727.8M491.2 714.8L491.2 727.8M495.3 717.9L495.3 730.9M496.7 717.9L496.7 730.9"/>
<path class="pd" d="M338.5 688L338.5 700M341.3 689.8L341.3 701.8M344.1 691.5L344.1 703.5M346.9 693.3L346.9 705.3M349.7 695.1L349.7 707.1M352.5 696.8L352.5 708.8M355.3 698.6L355.3 710.6M358.1 700.4L358.1 712.4M360.9 702.2L360.9 714.2M363.7 703.9L363.7 715.9M366.5 705.7L366.5 717.7M369.3 707.5L369.3 719.5M372.2 709.2L372.2 721.2M375 711L375 723M377.8 712.8L377.8 724.8M380.6 714.5L380.6 726.5M383.4 716.3L383.4 728.3M386.2 718.1L386.2 730.1M389 719.9L389 731.9M391.8 721.6L391.8 733.6M394.6 723.4L394.6 735.4M397.4 725.2L397.4 737.2M400.2 726.9L400.2 738.9M403 728.7L403 740.7"/>
<path class="pm" d="M301.9 700.4L301.9 705.9M304.7 702.2L304.7 707.7M307.5 704L307.5 709.5M310.3 705.7L310.3 711.2M313.2 707.5L313.2 713M316 709.3L316 714.8M318.8 711L318.8 716.5M321.6 712.8L321.6 718.3M324.4 714.6L324.4 720.1M327.2 716.3L327.2 721.8M330 718.1L330 723.6M332.8 719.9L332.8 725.4M335.6 721.7L335.6 727.2M338.4 723.4L338.4 728.9M341.2 725.2L341.2 730.7M344 727L344 732.5M346.8 728.7L346.8 734.2M349.6 730.5L349.6 736M352.4 732.3L352.4 737.8M355.2 734L355.2 739.5M358 735.8L358 741.3M360.8 737.6L360.8 743.1M363.6 739.3L363.6 744.8M366.4 741.1L366.4 746.6"/>
<path class="pm" d="M320.2 694.7L320.2 700.2M323 696.5L323 702M325.8 698.2L325.8 703.7M328.6 700L328.6 705.5M331.4 701.8L331.4 707.3M334.2 703.6L334.2 709.1M337 705.3L337 710.8M339.8 707.1L339.8 712.6M342.7 708.9L342.7 714.4M345.5 710.6L345.5 716.1M348.3 712.4L348.3 717.9M351.1 714.2L351.1 719.7M353.9 715.9L353.9 721.4M356.7 717.7L356.7 723.2M359.5 719.5L359.5 725M362.3 721.3L362.3 726.8M365.1 723L365.1 728.5M367.9 724.8L367.9 730.3M370.7 726.6L370.7 732.1M373.5 728.3L373.5 733.8M376.3 730.1L376.3 735.6M379.1 731.9L379.1 737.4M381.9 733.6L381.9 739.1M384.7 735.4L384.7 740.9"/>
<path class="g" d="M273.2 709.1L340.5 688.1M275.9 710.8L343.2 689.8M278.5 712.5L345.9 691.5M281.2 714.2L348.6 693.2M283.9 715.9L351.2 694.9M286.6 717.6L353.9 696.6M289.3 719.3L356.6 698.3M292 721L359.3 700M294.7 722.7L362 701.7M297.4 724.4L364.7 703.4M300 726.1L367.4 705.1M302.7 727.8L370.1 706.8M305.4 729.5L372.7 708.5M308.1 731.2L375.4 710.2M310.8 732.9L378.1 711.9M313.5 734.6L380.8 713.5M316.2 736.3L383.5 715.2M318.9 738L386.2 716.9M321.5 739.7L388.9 718.6M324.2 741.4L391.6 720.3M326.9 743.1L394.2 722M329.6 744.7L396.9 723.7M339.4 744.2L399.6 725.4M342.1 745.9L402.3 727.1M344.8 747.6L405 728.8M347.5 749.3L407.7 730.5M278.2 705.2L348.7 749.7M280.3 704.6L350.8 749M284.4 703.3L354.8 747.7M286.5 702.6L356.9 747.1M290.6 701.4L361 745.8M292.7 700.7L363.1 745.2M296.7 699.5L367.1 743.9M298.8 698.8L369.2 743.2M302.9 697.5L373.3 742M305 696.9L375.4 741.3M309 695.6L379.4 740M311.1 695L381.5 739.4M315.2 693.7L385.6 738.1M317.3 693L387.7 737.5M321.3 691.8L391.8 736.2M323.4 691.1L393.8 735.6M327.5 689.8L397.9 734.3M329.6 689.2L400 733.6M333.6 687.9L404.1 732.4M335.7 687.3L406.2 731.7"/>
<path class="p" d="M341.5 745.6L341.5 760.1M342.9 745.6L342.9 760.1M346.9 749L346.9 763.5M348.3 749L348.3 763.5"/>
<path class="r" d="M308.6 693.9L338.5 685.5"/>
<path class="pd" d="M274.9 708L274.9 720M277.7 709.8L277.7 721.8M280.5 711.6L280.5 723.6M283.3 713.3L283.3 725.3M286.1 715.1L286.1 727.1M288.9 716.9L288.9 728.9M291.7 718.7L291.7 730.7M294.5 720.4L294.5 732.4M297.3 722.2L297.3 734.2M300.1 724L300.1 736M302.9 725.8L302.9 737.8M305.7 727.6L305.7 739.6M308.6 729.3L308.6 741.3M311.4 731.1L311.4 743.1M314.2 732.9L314.2 744.9M317 734.7L317 746.7M319.8 736.5L319.8 748.5M322.6 738.2L322.6 750.2M325.4 740L325.4 752M328.2 741.8L328.2 753.8M331 743.6L331 755.6M333.8 745.3L333.8 757.3M336.6 747.1L336.6 759.1M339.4 748.9L339.4 760.9"/>
<path class="pm" d="M238.3 721.5L238.3 727M241.1 723.3L241.1 728.8M243.9 725.1L243.9 730.6M246.7 726.9L246.7 732.4M249.6 728.7L249.6 734.2M252.4 730.4L252.4 735.9M255.2 732.2L255.2 737.7M258 734L258 739.5M260.8 735.8L260.8 741.3M263.6 737.5L263.6 743M266.4 739.3L266.4 744.8M269.2 741.1L269.2 746.6M272 742.9L272 748.4M274.8 744.7L274.8 750.2M277.6 746.4L277.6 751.9M280.4 748.2L280.4 753.7M283.2 750L283.2 755.5M286 751.8L286 757.3M288.8 753.5L288.8 759M291.6 755.3L291.6 760.8M294.4 757.1L294.4 762.6M297.2 758.9L297.2 764.4M300 760.7L300 766.2M302.8 762.4L302.8 767.9"/>
<path class="pm" d="M256.6 715.3L256.6 720.8M259.4 717L259.4 722.5M262.2 718.8L262.2 724.3M265 720.6L265 726.1M267.8 722.4L267.8 727.9M270.6 724.2L270.6 729.7M273.4 725.9L273.4 731.4M276.2 727.7L276.2 733.2M279.1 729.5L279.1 735M281.9 731.3L281.9 736.8M284.7 733.1L284.7 738.6M287.5 734.8L287.5 740.3M290.3 736.6L290.3 742.1M293.1 738.4L293.1 743.9M295.9 740.2L295.9 745.7M298.7 741.9L298.7 747.4M301.5 743.7L301.5 749.2M304.3 745.5L304.3 751M307.1 747.3L307.1 752.8M309.9 749.1L309.9 754.6M312.7 750.8L312.7 756.3M315.5 752.6L315.5 758.1M318.3 754.4L318.3 759.9M321.1 756.2L321.1 761.7"/>
<path class="g" d="M209.6 731.1L276.9 708M212.3 732.8L279.6 709.7M215 734.5L282.2 711.4M217.7 736.2L284.9 713.1M220.4 737.9L287.6 714.8M223.1 739.6L290.3 716.5M225.8 741.3L293 718.2M228.5 743L295.7 719.9M231.1 744.7L298.4 721.6M233.8 746.4L301.1 723.3M236.5 748.1L303.7 725.1M239.2 749.8L306.4 726.8M241.9 751.5L309.1 728.5M244.6 753.2L311.8 730.2M247.3 754.9L314.5 731.9M250 756.6L317.2 733.6M252.6 758.3L319.9 735.3M255.3 760L322.6 737M258 761.7L325.2 738.7M267.8 761L327.9 740.4M270.5 762.7L330.6 742.1M273.2 764.4L333.3 743.8M275.9 766.1L336 745.5M278.5 767.8L338.7 747.2M281.2 769.5L341.4 748.9M283.9 771.2L344.1 750.6M214.7 726.9L285.1 771.6M216.7 726.2L287.2 770.9M220.8 724.8L291.2 769.5M222.9 724.1L293.3 768.8M227 722.7L297.4 767.4M229.1 722L299.5 766.7M233.1 720.6L303.5 765.3M235.2 719.9L305.6 764.5M239.3 718.5L309.7 763.2M241.4 717.8L311.8 762.4M245.4 716.4L315.8 761M247.5 715.7L317.9 760.3M251.6 714.3L322 758.9M253.7 713.6L324.1 758.2M257.7 712.2L328.2 756.8M259.8 711.5L330.2 756.1M263.9 710.1L334.3 754.7M266 709.3L336.4 754M270.1 707.9L340.5 752.6M272.1 707.2L342.6 751.9"/>
<path class="p" d="M267.2 760.7L267.2 775.2M268.6 760.7L268.6 775.2M272.6 764.1L272.6 778.6M273.9 764.1L273.9 778.6M277.9 767.5L277.9 782M279.3 767.5L279.3 782M283.3 770.9L283.3 785.4M284.7 770.9L284.7 785.4"/>
<path class="r" d="M242.3 715.7L274.9 705.5"/>
<path class="pd" d="M200.6 725.3L200.6 737.3M203.3 727L203.3 739M206.1 728.7L206.1 740.7M208.8 730.4L208.8 742.4M211.6 732L211.6 744M214.3 733.7L214.3 745.7M217.1 735.4L217.1 747.4M219.8 737.1L219.8 749.1M222.6 738.8L222.6 750.8M225.3 740.5L225.3 752.5M228.1 742.2L228.1 754.2M230.8 743.9L230.8 755.9M233.6 745.5L233.6 757.5M236.3 747.2L236.3 759.2M239 748.9L239 760.9M241.8 750.6L241.8 762.6M244.5 752.3L244.5 764.3M247.3 754L247.3 766M250 755.7L250 767.7M252.8 757.4L252.8 769.4M255.5 759L255.5 771M258.3 760.7L258.3 772.7M261 762.4L261 774.4M263.8 764.1L263.8 776.1M266.5 765.8L266.5 777.8"/>
<path class="pm" d="M163.2 738.2L163.2 743.7M166 739.7L166 745.2M168.7 741.3L168.7 746.8M171.5 742.8L171.5 748.3M174.2 744.4L174.2 749.9M177 746L177 751.5M179.7 747.5L179.7 753M182.5 749.1L182.5 754.6M185.2 750.6L185.2 756.1M188 752.2L188 757.7M190.7 753.7L190.7 759.2M193.4 755.3L193.4 760.8M196.2 756.8L196.2 762.3M198.9 758.4L198.9 763.9M201.7 759.9L201.7 765.4M204.4 761.5L204.4 767M207.2 763L207.2 768.5M209.9 764.6L209.9 770.1M212.7 766.2L212.7 771.7M215.4 767.7L215.4 773.2M218.2 769.3L218.2 774.8M220.9 770.8L220.9 776.3M223.7 772.4L223.7 777.9M226.4 773.9L226.4 779.4M229.1 775.5L229.1 781"/>
<path class="pm" d="M181.9 732.2L181.9 737.7M184.7 733.8L184.7 739.3M187.4 735.3L187.4 740.8M190.2 736.9L190.2 742.4M192.9 738.5L192.9 744M195.7 740L195.7 745.5M198.4 741.6L198.4 747.1M201.1 743.1L201.1 748.6M203.9 744.7L203.9 750.2M206.6 746.2L206.6 751.7M209.4 747.8L209.4 753.3M212.1 749.3L212.1 754.8M214.9 750.9L214.9 756.4M217.6 752.4L217.6 757.9M220.4 754L220.4 759.5M223.1 755.6L223.1 761.1M225.9 757.1L225.9 762.6M228.6 758.7L228.6 764.2M231.3 760.2L231.3 765.7M234.1 761.8L234.1 767.3M236.8 763.3L236.8 768.8M239.6 764.9L239.6 770.4M242.3 766.4L242.3 771.9M245.1 768L245.1 773.5M247.8 769.5L247.8 775"/>
<path class="g" d="M141.2 745L202.6 725.5M143.9 746.5L205.3 727M146.7 748.1L208.1 728.6M149.4 749.6L210.8 730.1M152.2 751.2L213.5 731.7M154.9 752.7L216.3 733.2M157.7 754.3L219 734.8M160.4 755.9L221.8 736.3M163.2 757.4L224.5 737.9M165.9 759L227.3 739.4M168.7 760.5L230 741M171.4 762.1L232.8 742.6M174.1 763.6L235.5 744.1M176.9 765.2L238.3 745.7M179.6 766.7L241 747.2M182.4 768.3L243.7 748.8M185.1 769.8L246.5 750.3M187.9 771.4L249.2 751.9M190.6 773L252 753.4M193.4 774.5L254.7 755M196.1 776.1L257.5 756.5M198.9 777.6L260.2 758.1M201.6 779.2L263 759.7M204.4 780.7L265.7 761.2M207.1 782.3L268.5 762.8M209.8 783.8L271.2 764.3M142.1 745.1L211 784.2M144.2 744.5L213.1 783.5M148.3 743.1L217.3 782.2M150.5 742.5L219.4 781.5M154.6 741.1L223.6 780.2M156.8 740.5L225.7 779.5M160.9 739.1L229.9 778.2M163.1 738.5L232 777.5M167.2 737.1L236.2 776.2M169.4 736.5L238.3 775.5M173.5 735.1L242.5 774.2M175.6 734.5L244.6 773.5M179.8 733.1L248.7 772.2M181.9 732.5L250.9 771.5M186.1 731.1L255 770.2M188.2 730.5L257.2 769.5M192.4 729.1L261.3 768.2M194.5 728.5L263.5 767.5M198.7 727.1L267.6 766.2M200.8 726.5L269.7 765.5"/>
<path class="p" d="M143.3 746.3L143.3 760.8M144.7 746.3L144.7 760.8M148.8 749.4L148.8 763.9M150.2 749.4L150.2 763.9M154.3 752.5L154.3 767M155.7 752.5L155.7 767M159.8 755.6L159.8 770.1M161.2 755.6L161.2 770.1M165.3 758.7L165.3 773.2M166.7 758.7L166.7 773.2M170.8 761.8L170.8 776.3M172.2 761.8L172.2 776.3M176.2 764.9L176.2 779.4M177.6 764.9L177.6 779.4M181.7 768.1L181.7 782.6M183.1 768.1L183.1 782.6M187.2 771.2L187.2 785.7M188.6 771.2L188.6 785.7M192.7 774.3L192.7 788.8M194.1 774.3L194.1 788.8M198.2 777.4L198.2 791.9M199.6 777.4L199.6 791.9M203.7 780.5L203.7 795M205.1 780.5L205.1 795M209.2 783.6L209.2 798.1M210.6 783.6L210.6 798.1"/>
<path class="r" d="M145 738.8L200.6 722.8M145 738.8L145 744.3M151.2 737L151.2 742.5M157.4 735.2L157.4 740.7M163.5 733.5L163.5 739M169.7 731.7L169.7 737.2M175.9 729.9L175.9 735.4M182.1 728.1L182.1 733.6M188.2 726.4L188.2 731.9M194.4 724.6L194.4 730.1M200.6 722.8L200.6 728.3"/>
<path class="pm" d="M584 609.1L584 614.6M586.7 610.6L586.7 616.1M589.5 612.2L589.5 617.7M592.2 613.7L592.2 619.2M594.9 615.2L594.9 620.7M597.7 616.8L597.7 622.3M600.4 618.3L600.4 623.8M603.2 619.8L603.2 625.3M605.9 621.4L605.9 626.9M608.7 622.9L608.7 628.4M611.4 624.4L611.4 629.9M614.2 626L614.2 631.5M616.9 627.5L616.9 633M619.7 629L619.7 634.5M622.4 630.6L622.4 636.1M625.1 632.1L625.1 637.6M627.9 633.6L627.9 639.1M630.6 635.2L630.6 640.7M633.4 636.7L633.4 642.2M636.1 638.2L636.1 643.7M638.9 639.8L638.9 645.3M641.6 641.3L641.6 646.8M644.4 642.8L644.4 648.3M647.1 644.4L647.1 649.9M649.9 645.9L649.9 651.4"/>
<path class="pm" d="M600.5 602.4L600.5 607.9M603.3 604L603.3 609.5M606 605.5L606 611M608.8 607L608.8 612.5M611.5 608.6L611.5 614.1M614.2 610.1L614.2 615.6M617 611.6L617 617.1M619.7 613.2L619.7 618.7M622.5 614.7L622.5 620.2M625.2 616.2L625.2 621.7M628 617.8L628 623.3M630.7 619.3L630.7 624.8M633.5 620.8L633.5 626.3M636.2 622.4L636.2 627.9M639 623.9L639 629.4M641.7 625.4L641.7 630.9M644.5 627L644.5 632.5M647.2 628.5L647.2 634M649.9 630L649.9 635.5M652.7 631.6L652.7 637.1M655.4 633.1L655.4 638.6M658.2 634.6L658.2 640.1M660.9 636.2L660.9 641.7M663.7 637.7L663.7 643.2M666.4 639.2L666.4 644.7"/>
<path class="g" d="M564.6 616.6L624.5 592.4M567.4 618.1L627.2 594M570.1 619.7L630 595.5M572.9 621.2L632.7 597M575.6 622.7L635.5 598.6M578.4 624.3L638.2 600.1M581.1 625.8L640.9 601.6M583.9 627.3L643.7 603.2M586.6 628.9L646.4 604.7M589.3 630.4L649.2 606.2M592.1 631.9L651.9 607.8M594.8 633.5L654.7 609.3M597.6 635L657.4 610.8M600.3 636.5L660.2 612.4M603.1 638.1L662.9 613.9M605.8 639.6L665.7 615.4M608.6 641.1L668.4 617M611.3 642.7L671.2 618.5M614.1 644.2L673.9 620M616.8 645.7L676.6 621.6M619.6 647.3L679.4 623.1M622.3 648.8L682.1 624.6M625 650.3L684.9 626.2M627.8 651.9L687.6 627.7M630.5 653.4L690.4 629.2M633.3 654.9L693.1 630.8M565.5 616.7L634.4 655.2M567.6 615.9L636.5 654.4M571.6 614.3L640.6 652.8M573.7 613.4L642.7 651.9M577.8 611.8L646.7 650.3M579.8 610.9L648.8 649.4M583.9 609.3L652.8 647.8M586 608.5L654.9 647M590 606.8L659 645.3M592.1 606L661.1 644.5M596.2 604.3L665.1 642.9M598.2 603.5L667.2 642M602.3 601.9L671.2 640.4M604.4 601L673.3 639.5M608.4 599.4L677.4 637.9M610.5 598.5L679.5 637.1M614.6 596.9L683.5 635.4M616.6 596.1L685.6 634.6M620.7 594.4L689.6 632.9M622.8 593.6L691.7 632.1"/>
<path class="p" d="M566.7 617.8L566.7 632.3M568.1 617.8L568.1 632.3M572.2 620.9L572.2 635.4M573.6 620.9L573.6 635.4M577.7 623.9L577.7 638.4M579.1 623.9L579.1 638.4M583.2 627L583.2 641.5M584.6 627L584.6 641.5M588.7 630.1L588.7 644.6M590.1 630.1L590.1 644.6M594.2 633.1L594.2 647.6M595.6 633.1L595.6 647.6M599.6 636.2L599.6 650.7M601.1 636.2L601.1 650.7M605.1 639.3L605.1 653.8M606.5 639.3L606.5 653.8M610.6 642.3L610.6 656.8M612 642.3L612 656.8M616.1 645.4L616.1 659.9M617.5 645.4L617.5 659.9M621.6 648.5L621.6 663M623 648.5L623 663M627.1 651.5L627.1 666M628.5 651.5L628.5 666M632.6 654.6L632.6 669.1M634 654.6L634 669.1"/>
<path class="pb" d="M621.9 593L621.9 606M623.3 593L623.3 606M627.4 596.1L627.4 609.1M628.8 596.1L628.8 609.1M632.9 599.1L632.9 612.1M634.3 599.1L634.3 612.1M638.4 602.2L638.4 615.2M639.8 602.2L639.8 615.2M643.9 605.3L643.9 618.3M645.3 605.3L645.3 618.3M649.4 608.3L649.4 621.3M650.8 608.3L650.8 621.3M654.9 611.4L654.9 624.4M656.3 611.4L656.3 624.4M660.3 614.5L660.3 627.5M661.7 614.5L661.7 627.5M665.8 617.5L665.8 630.5M667.2 617.5L667.2 630.5M671.3 620.6L671.3 633.6M672.7 620.6L672.7 633.6M676.8 623.7L676.8 636.7M678.2 623.7L678.2 636.7M682.3 626.7L682.3 639.7M683.7 626.7L683.7 639.7M687.8 629.8L687.8 642.8M689.2 629.8L689.2 642.8"/>
<path class="r" d="M568.4 610.3L622.6 590M568.4 610.3L568.4 615.8M574.4 608L574.4 613.5M580.4 605.8L580.4 611.3M586.5 603.5L586.5 609M592.5 601.3L592.5 606.8M598.5 599L598.5 604.5M604.5 596.8L604.5 602.3M610.6 594.5L610.6 600M616.6 592.3L616.6 597.8M622.6 590L622.6 595.5"/>
<path class="ld" d="M132.3 978.7 L218 1025.2 L358.8 991.3 L497 1014.5 L570.5 988.5"/>
<path class="fl" d="M161.3 969.2 L200.5 958.3"/>
<path class="fl" d="M199 958 L289 1006.2"/>
<path class="fl" d="M220.2 1023 L277.2 1002.6"/>
<path class="fl" d="M289 1006.2 L348.2 986.8 L410.2 965.6 L499.3 1012.9 L566.3 988.3"/>
<path class="fl" d="M437.4 979.2 L501 956.1"/>
<path class="fl" d="M330 905 L378.5 888.6 L566.3 988.3"/>
<path class="fl" d="M275 945 L344 985"/>
<path class="fl" d="M340 930 L410.2 965.6"/>
<path class="dt" d="M220.9 1005.3 L253.6 989"/>
<path class="dt" d="M289 989 L289 1006"/>
<path class="dt" d="M289 989 L340 970.8"/>
<path class="dt" d="M348 966 L410 945 L499.3 990"/>
<path class="dt" d="M499.3 990 L563 963"/>
<path class="pw" d="M138.8 978.8V955.6H143.2V978.8ZM144.9 976.5V953.6H149.3V976.5ZM151 974.3V953.2H155.4V974.3ZM157.2 972V950.2H161.6V972ZM163.3 969.7V949.8H167.7V969.7ZM169.4 967.4V947.8H173.8V967.4ZM175.5 965.2V945.4H179.9V965.2ZM181.7 962.9V944.9H186.1V962.9ZM187.8 960.6V942.2H192.2V960.6ZM193.9 958.4V940.9H198.3V958.4ZM200 956.1V937.2H204.4V956.1ZM206.1 953.8V934.5H210.5V953.8ZM212.3 951.6V932.5H216.7V951.6ZM218.4 949.3V930.6H222.8V949.3ZM224.5 947.1V926.1H228.9V947.1ZM230.6 944.8V923.6H235V944.8ZM236.8 942.6V921.7H241.2V942.6ZM242.9 940.3V919.7H247.3V940.3ZM249 938V916H253.4V938ZM255.1 935.6V913.2H259.5V935.6ZM261.2 933V912.7H265.6V933ZM267.4 930.4V908.6H271.8V930.4ZM273.5 927.8V908.6H277.9V927.8ZM279.6 925.1V905.3H284V925.1ZM285.7 922.5V903.1H290.1V922.5ZM291.8 919.9V901.1H296.2V919.9ZM298 917.3V899.7H302.4V917.3ZM304.1 914.7V899H308.5V914.7ZM310.2 912.1V895.5H314.6V912.1ZM316.3 909.8V893.9H320.7V909.8ZM322.5 907.6V891H326.9V907.6ZM328.6 905.4V887.3H333V905.4ZM334.7 903.3V884.6H339.1V903.3ZM340.8 901.1V880.4H345.2V901.1ZM346.9 899V877.3H351.3V899ZM353.1 896.8V874.6H357.5V896.8ZM359.2 894.6V872.6H363.6V894.6ZM365.3 892.5V869H369.7V892.5ZM371.4 890.3V865.6H375.8V890.3ZM377.6 889.3V863.2H382V889.3ZM383.7 892.7V859.8H388.1V892.7ZM389.8 896.1V856.4H394.2V896.1Z"/>
<path class="fl" d="M161.3 969.2 L193 959.5 L254 937 L315 911 L378.5 888.6"/>
<path class="pw3" d="M397.7 899.7V877.2H399.3V899.7ZM400.7 901.3V878.5H402.3V901.3ZM403.7 902.9V879H405.3V902.9ZM406.7 904.5V881.4H408.3V904.5ZM409.7 906.1V882.9H411.3V906.1ZM412.7 907.6V885.3H414.3V907.6ZM415.6 909.2V886.5H417.2V909.2ZM418.6 910.8V887.1H420.2V910.8ZM421.6 912.4V890.3H423.2V912.4ZM424.6 914V889.8H426.2V914ZM427.6 915.5V892.1H429.2V915.5ZM430.6 917.1V894.5H432.2V917.1ZM433.6 918.7V894.7H435.2V918.7ZM436.6 920.3V897.1H438.2V920.3ZM439.6 921.8V897.6H441.2V921.8ZM442.6 923.4V900.7H444.2V923.4ZM445.6 925V902.5H447.2V925ZM448.5 926.6V903.6H450.1V926.6ZM451.5 928.2V905.9H453.1V928.2ZM454.5 929.7V906.2H456.1V929.7ZM457.5 931.3V908.7H459.1V931.3ZM460.5 932.9V910H462.1V932.9ZM463.5 934.5V911.6H465.1V934.5ZM466.5 936.1V912.9H468.1V936.1ZM469.5 937.6V915.4H471.1V937.6ZM472.5 939.2V917.2H474.1V939.2ZM475.5 940.8V917.7H477.1V940.8ZM478.5 942.4V919.7H480.1V942.4ZM481.4 943.9V919.8H483V943.9ZM484.4 945.5V923H486V945.5ZM487.4 947.1V924.4H489V947.1ZM490.4 948.7V926.8H492V948.7ZM493.4 950.3V928H495V950.3ZM496.4 951.8V928.3H498V951.8ZM499.4 953.4V930.1H501V953.4ZM502.4 955V932.4H504V955ZM505.4 956.6V932.4H507V956.6ZM508.4 958.1V935.1H510V958.1ZM511.4 959.7V936H513V959.7ZM514.3 961.3V937.4H515.9V961.3ZM517.3 962.9V938.9H518.9V962.9ZM520.3 964.5V942.2H521.9V964.5ZM523.3 966V942.2H524.9V966ZM526.3 967.6V944.1H527.9V967.6ZM529.3 969.2V946H530.9V969.2ZM532.3 970.8V948.8H533.9V970.8ZM535.3 972.4V948.5H536.9V972.4ZM538.3 973.9V950.9H539.9V973.9ZM541.3 975.5V952.8H542.9V975.5ZM544.3 977.1V955.1H545.9V977.1ZM547.2 978.7V956.6H548.8V978.7ZM550.2 980.2V958.3H551.8V980.2ZM553.2 981.8V958.5H554.8V981.8ZM556.2 983.4V960.4H557.8V983.4ZM559.2 985V961.8H560.8V985ZM562.2 986.6V964.7H563.8V986.6Z"/>
<path class="pk" d="M400.7 901.3V889.7H402.3V901.3ZM406.9 904.6V890.6H408.5V904.6ZM413.2 907.9V893.9H414.8V907.9ZM419.4 911.2V897.4H421V911.2ZM425.6 914.5V900.7H427.2V914.5ZM431.8 917.8V904.7H433.4V917.8ZM438.1 921.1V908.3H439.7V921.1ZM444.3 924.3V910.6H445.9V924.3ZM450.5 927.6V913.1H452.1V927.6ZM456.7 930.9V917.7H458.3V930.9ZM463 934.2V920.8H464.6V934.2ZM469.2 937.5V924.7H470.8V937.5Z"/>
<path class="pk3" d="M472.7 939.3V930.6H474.3V939.3ZM481.3 943.9V933.8H482.9V943.9ZM490 948.5V937.5H491.6V948.5ZM498.6 953V942.6H500.2V953ZM507.3 957.6V947.5H508.9V957.6ZM516 962.2V948.9H517.5V962.2ZM524.6 966.7V957.7H526.2V966.7ZM533.2 971.3V961.7H534.8V971.3ZM541.9 975.8V966.7H543.5V975.8ZM550.6 980.4V970.9H552.1V980.4ZM559.2 985V973.4H560.8V985Z"/>
<path class="pl" d="M396.5 854.4L396.5 892.7M407.7 859.4L407.7 898.6M415.9 865.3L415.9 902.9M418.3 866.7L418.3 904.2M423.7 871L423.7 907M428.9 874.7L428.9 909.8M436.8 880.5L436.8 914M442 884.9L442 916.7M447.4 888.5L447.4 919.6M458 896.5L458 925.1M465.8 902.3L465.8 929.3M487.3 917.6L487.3 940.6M497.5 925.5L497.5 946M503.3 929.2L503.3 949.1M518.8 939L518.8 957.2M531 947L531 963.7M546 953L546 971.6"/>
<path class="pg" d="M202.5 960.7V945.2H205.5V960.7ZM208 963.7V948.1H211V963.7ZM213.4 966.6V950.9H216.4V966.6ZM218.9 969.6V953.8H221.9V969.6ZM224.4 972.6V956.6H227.4V972.6ZM229.8 975.5V959.5H232.8V975.5ZM235.3 978.5V962.3H238.3V978.5ZM240.8 981.4V965.2H243.8V981.4ZM246.2 984.4V968.1H249.2V984.4ZM251.7 987.4V970.9H254.7V987.4ZM257.2 990.3V973.8H260.2V990.3ZM262.6 993.3V976.6H265.6V993.3ZM268.1 996.2V979.5H271.1V996.2ZM273.6 999.2V982.3H276.6V999.2ZM279 1002.2V985.2H282V1002.2ZM284.5 1005.1V988H287.5V1005.1Z"/>
<path class="pl" d="M274.4 927V948"/>
<path class="pg" d="M280.5 947.8V929.8H283.5V947.8ZM286 951.7V933.6H289V951.7ZM291.6 955.5V937.3H294.6V955.5ZM297.1 959.4V941.1H300.1V959.4ZM302.7 963.2V944.8H305.7V963.2ZM308.2 967.1V948.5H311.2V967.1ZM313.8 970.9V952.3H316.8V970.9ZM319.3 974.8V956H322.3V974.8ZM324.9 978.6V959.8H327.9V978.6ZM330.4 982.4V963.5H333.4V982.4ZM336 986.3V967.3H339V986.3ZM341.5 990.1V971H344.5V990.1Z"/>
<path class="pg" d="M337.5 928.7V911.8H340.5V928.7ZM342.9 931.5V914.6H345.9V931.5ZM348.3 934.3V917.4H351.3V934.3ZM353.8 937.1V920.1H356.8V937.1ZM359.2 939.9V922.9H362.2V939.9ZM364.6 942.6V925.7H367.6V942.6ZM370 945.4V928.5H373V945.4ZM375.4 948.2V931.2H378.4V948.2ZM380.8 951V934H383.8V951ZM386.2 953.8V936.8H389.2V953.8ZM391.7 956.6V939.6H394.7V956.6ZM397.1 959.3V942.4H400.1V959.3ZM402.5 962.1V945.1H405.5V962.1Z"/>
<path class="pw" d="M408.8 965.8V949.2H412.2V965.8ZM414.7 968.7V952.1H418.1V968.7ZM420.6 971.6V955.1H423.9V971.6ZM426.4 974.6V958H429.8V974.6ZM432.3 977.5V961H435.7V977.5Z"/>
<path class="pw" d="M138.1 981V957.9H140.9V981ZM142 983.1V960.2H144.9V983.1ZM146 985.1V962.5H148.9V985.1ZM150 987.2V964.8H152.9V987.2ZM154 989.3V967.1H156.8V989.3ZM157.9 991.3V969.4H160.8V991.3ZM161.9 993.4V971.8H164.8V993.4ZM165.9 995.5V974.1H168.8V995.5ZM169.9 997.5V976.4H172.8V997.5ZM173.8 999.6V978.7H176.7V999.6ZM177.8 1001.7V981H180.7V1001.7ZM181.8 1003.7V983.3H184.7V1003.7ZM185.8 1005.8V985.6H188.6V1005.8ZM189.7 1007.9V987.9H192.6V1007.9ZM193.7 1010V990.2H196.6V1010ZM197.7 1012V992.5H200.6V1012ZM201.7 1014.1V994.9H204.5V1014.1ZM205.6 1016.2V997.2H208.5V1016.2ZM209.6 1018.2V999.5H212.5V1018.2ZM213.6 1020.3V1001.8H216.5V1020.3ZM217.6 1022.4V1004.1H220.4V1022.4Z"/>
<path class="pw" d="M499.4 1012.1V988.9H503.6V1012.1ZM504.7 1010.1V986.3H508.9V1010.1ZM510 1008.2V985.3H514.2V1008.2ZM515.3 1006.3V982.1H519.5V1006.3ZM520.6 1004.3V980H524.8V1004.3ZM525.9 1002.4V978.3H530.1V1002.4ZM531.1 1000.4V976.1H535.4V1000.4ZM536.4 998.5V974.4H540.6V998.5ZM541.7 996.5V971.8H545.9V996.5ZM547 994.6V969.6H551.2V994.6ZM552.3 992.7V967.9H556.5V992.7ZM557.6 990.7V965.7H561.8V990.7ZM562.9 988.8V964.2H567.1V988.8Z"/>
<path class="fl" d="M499.3 990V1012.9"/>
<path class="ld2" d="M518.3 841.8 L635.8 894.5 L701.1 870.6"/>
<path class="pw" d="M547.7 844.6V822.9H550.3V844.6ZM552 842.8V822.6H554.6V842.8ZM556.4 841V820.5H559V841ZM560.7 839.2V818.1H563.3V839.2ZM565 837.5V816.7H567.6V837.5ZM569.4 835.7V815.2H572V835.7ZM573.7 833.9V813.6H576.3V833.9ZM578 832.1V811.6H580.6V832.1ZM582.4 830.3V811.1H585V830.3ZM586.7 828.6V809.7H589.3V828.6ZM591 826.8V807.2H593.6V826.8ZM595.4 825V805.6H598V825ZM599.7 823.2V803.3H602.3V823.2Z"/>
<path class="pk2" d="M603 823.4V803.5H605V823.4ZM606.6 825.2V805.7H608.6V825.2ZM610.2 827.1V807.4H612.2V827.1ZM613.8 828.9V810.1H615.8V828.9ZM617.4 830.8V810.8H619.4V830.8ZM621 832.6V812.4H623V832.6ZM624.6 834.5V815.6H626.6V834.5ZM628.2 836.3V816.8H630.2V836.3ZM631.8 838.2V817.9H633.8V838.2ZM635.4 840V820.4H637.4V840ZM639 841.9V821.3H641V841.9ZM642.6 843.7V823.9H644.6V843.7ZM646.2 845.5V826.4H648.2V845.5ZM649.8 847.4V828.1H651.8V847.4ZM653.4 849.2V829.6H655.4V849.2ZM657 851.1V830.7H659V851.1ZM660.6 852.9V832.6H662.6V852.9ZM664.2 854.8V834.1H666.2V854.8ZM667.8 856.6V836.9H669.8V856.6ZM671.4 858.5V838.3H673.4V858.5ZM675 860.3V840.5H677V860.3ZM678.6 862.2V841.6H680.6V862.2ZM682.2 864V843.2H684.2V864ZM685.8 865.9V845.9H687.8V865.9ZM689.4 867.7V848H691.4V867.7ZM693 869.6V849.6H695V869.6Z"/>
<path class="fl" d="M548 845 L602.5 822.6 L694 868.5"/>
<path class="pw2" d="M549 846.1V824.7H551V846.1ZM552.1 847.7V826.4H554.1V847.7ZM555.2 849.4V827.9H557.2V849.4ZM558.3 851.1V828.6H560.3V851.1ZM561.4 852.7V830.8H563.4V852.7ZM564.6 854.4V832.2H566.6V854.4ZM567.7 856V833.2H569.7V856ZM570.8 857.7V834.9H572.8V857.7ZM573.9 859.4V837.1H575.9V859.4ZM577 861V838.7H579V861ZM580.1 862.7V841.3H582.1V862.7ZM583.2 864.3V843.5H585.2V864.3ZM586.3 866V844.2H588.3V866ZM589.4 867.7V846.8H591.4V867.7ZM592.6 869.3V848.6H594.6V869.3ZM595.7 871V850.2H597.7V871ZM598.8 872.7V850.7H600.8V872.7ZM601.9 874.3V852.1H603.9V874.3ZM605 876V853.8H607V876ZM608.1 877.6V855.5H610.1V877.6ZM611.2 879.3V857.2H613.2V879.3ZM614.3 881V859.7H616.3V881ZM617.4 882.6V861.9H619.4V882.6ZM620.6 884.3V863.5H622.6V884.3ZM623.7 886V864.4H625.7V886ZM626.8 887.6V866.5H628.8V887.6ZM629.9 889.3V868.4H631.9V889.3ZM633 890.9V868.7H635V890.9Z"/>
<path class="pw" d="M636.4 891.1V871.3H639.6V891.1ZM641.4 889.3V869.7H644.7V889.3ZM646.5 887.5V867.6H649.8V887.5ZM651.6 885.7V865.5H654.9V885.7ZM656.7 883.9V863.1H660V883.9ZM661.8 882.1V860.7H665.1V882.1ZM666.9 880.3V859.7H670.2V880.3ZM672 878.5V857H675.3V878.5ZM677.1 876.7V855.8H680.4V876.7ZM682.2 874.9V854.1H685.5V874.9ZM687.3 873.1V851.2H690.6V873.1ZM692.4 871.3V849.2H695.6V871.3Z"/>
<path class="ps" d="M529.5 844.8V823H532V844.8Z"/>
<path class="ps" d="M533.5 838.7V817.5H536V838.7Z"/>
<path class="ps" d="M536.4 847.8V827.2H538.9V847.8Z"/>
<path class="ps" d="M542.2 841.8V820.6H544.8V841.8Z"/>
<path class="ps" d="M545.9 852.7V814.5H548.4V852.7Z"/>
<path class="ps" d="M566.5 860.5V810H569V860.5Z"/>
<path class="ps" d="M576 865.4V838.7H578.5V865.4Z"/>
<line class="dt" x1="132.3" y1="237" x2="132.3" y2="955"/>
<line class="dt" x1="221" y1="291" x2="221" y2="1005"/>
<line class="dt" x1="359.5" y1="256" x2="359.5" y2="984"/>
<line class="dt" x1="400.5" y1="177" x2="400.5" y2="851"/>
<line class="dt" x1="500.3" y1="273.5" x2="500.3" y2="990"/>
<line class="dt" x1="570" y1="243" x2="570" y2="964"/>
<line class="dt" x1="518" y1="99" x2="518" y2="817"/>
<line class="dt" x1="602.5" y1="143" x2="602.5" y2="804"/>
<line class="dt" x1="636.4" y1="158" x2="636.4" y2="872"/>
<line class="dt" x1="701.6" y1="133" x2="701.6" y2="870"/>
</svg>
<div class="t" style="left:133.7px;top:297.1px">Toiture ventilée</div>
<div class="t" style="left:133.7px;top:315.2px">Etanchéité par membrane composite</div>
<div class="t" style="left:133.7px;top:559.9px">Charpente BLC</div>
<div class="t" style="left:133.7px;top:578.7px">Complexe de toiture préfabriqué</div>
<div class="t" style="left:133.7px;top:804.8px">Structure primaire / Grandes portées</div>
<div class="t" style="left:133.7px;top:823.0px">Treillis métalliques</div>
<div class="t" style="left:133.7px;top:1035.8px">Ossature verticale BLC</div>
<div class="ttl" style="left:511.7px;top:1066.9px">Composition du projet</div>
</body></html>
